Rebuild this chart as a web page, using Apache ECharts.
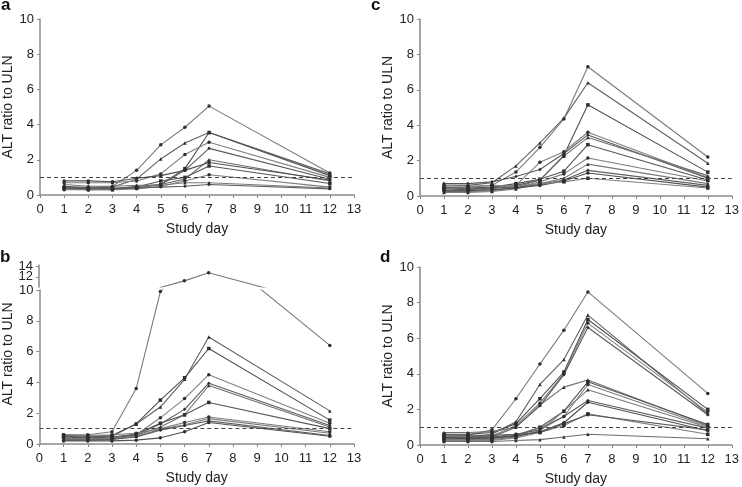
<!DOCTYPE html>
<html>
<head>
<meta charset="utf-8">
<script src="https://cdn.jsdelivr.net/npm/echarts@6/dist/echarts.min.js"></script>
<style>
  html, body { margin: 0; padding: 0; background: #fff; }
  #chart { width: 742px; height: 487px; }
</style>
</head>
<body>
<div id="chart"></div>
<script>
// study days sampled for every subject
const days = [1, 2, 3, 4, 5, 6, 7, 12];

// ALT ratio to ULN, one row per subject
const panelA = [
    [0.45, 0.45, 0.5, 1.4, 2.85, 3.85, 5.05, 1.25],
    [0.5, 0.4, 0.45, 0.9, 2.05, 2.95, 3.55, 1.2],
    [0.4, 0.35, 0.4, 0.4, 0.6, 1.5, 3.55, 1.1],
    [0.7, 0.7, 0.7, 0.8, 1.2, 2.3, 3.0, 1.0],
    [0.5, 0.3, 0.35, 0.5, 0.6, 1.4, 2.65, 0.9],
    [0.35, 0.3, 0.3, 0.4, 0.6, 0.9, 2.0, 0.8],
    [0.4, 0.35, 0.35, 0.45, 0.8, 1.0, 1.65, 0.65],
    [0.3, 0.3, 0.3, 0.35, 0.5, 0.8, 1.15, 0.45],
    [0.6, 0.5, 0.5, 0.55, 0.55, 0.7, 0.7, 0.4],
    [0.45, 0.4, 0.35, 0.4, 0.45, 0.5, 0.6, 0.35],
    [0.8, 0.8, 0.75, 0.95, 1.1, 1.4, 1.85, 0.85]
];

const panelB = [
    [0.6, 0.6, 0.8, 3.6, 9.9, 11.2, 12.8, 6.4],
    [0.5, 0.45, 0.5, 1.3, 2.4, 4.2, 6.95, 2.15],
    [0.55, 0.5, 0.55, 1.3, 2.85, 4.3, 6.2, 1.55],
    [0.4, 0.35, 0.4, 0.6, 1.7, 2.95, 4.5, 1.35],
    [0.35, 0.3, 0.35, 0.6, 1.3, 2.25, 3.95, 1.2],
    [0.3, 0.3, 0.3, 0.55, 1.1, 1.9, 3.8, 1.1],
    [0.45, 0.4, 0.45, 0.65, 1.35, 1.9, 2.7, 1.0],
    [0.6, 0.55, 0.6, 0.7, 1.0, 1.4, 1.75, 0.8],
    [0.35, 0.35, 0.35, 0.5, 0.95, 1.25, 1.65, 0.7],
    [0.25, 0.25, 0.3, 0.45, 0.9, 1.2, 1.5, 0.55],
    [0.2, 0.2, 0.2, 0.25, 0.4, 0.8, 1.4, 0.5]
];

const panelC = [
    [0.5, 0.5, 0.6, 1.35, 2.75, 4.35, 7.3, 2.2],
    [0.6, 0.6, 0.75, 1.7, 3.0, 4.4, 6.4, 1.85],
    [0.4, 0.35, 0.45, 0.6, 0.9, 2.3, 5.15, 1.35],
    [0.3, 0.3, 0.4, 0.6, 1.9, 2.5, 3.6, 1.05],
    [0.7, 0.7, 0.8, 1.1, 1.5, 2.4, 3.45, 1.0],
    [0.25, 0.25, 0.3, 0.5, 0.9, 2.25, 3.3, 1.15],
    [0.45, 0.45, 0.5, 0.7, 0.95, 1.4, 2.9, 0.9],
    [0.35, 0.3, 0.35, 0.45, 0.8, 1.25, 2.15, 0.85],
    [0.2, 0.2, 0.25, 0.4, 0.7, 1.0, 1.8, 0.7],
    [0.5, 0.4, 0.45, 0.5, 0.65, 0.9, 1.45, 0.6],
    [0.3, 0.3, 0.35, 0.45, 0.6, 0.85, 1.3, 0.5],
    [0.6, 0.55, 0.6, 0.55, 0.7, 0.8, 1.0, 0.45]
];

const panelD = [
    [0.5, 0.55, 0.85, 2.6, 4.55, 6.45, 8.6, 2.9],
    [0.4, 0.45, 0.6, 1.3, 3.4, 4.8, 7.3, 1.75],
    [0.6, 0.6, 0.7, 1.2, 2.6, 4.1, 7.05, 2.0],
    [0.35, 0.4, 0.5, 1.1, 2.35, 4.0, 6.85, 1.85],
    [0.3, 0.3, 0.45, 1.0, 2.2, 3.95, 6.6, 1.7],
    [0.7, 0.7, 0.75, 1.0, 2.25, 3.25, 3.65, 1.1],
    [0.45, 0.4, 0.4, 0.55, 1.0, 1.9, 3.55, 1.15],
    [0.35, 0.35, 0.35, 0.5, 0.95, 1.6, 3.4, 1.05],
    [0.3, 0.3, 0.3, 0.45, 0.8, 1.9, 3.1, 1.0],
    [0.5, 0.5, 0.45, 0.6, 0.85, 1.6, 2.5, 0.95],
    [0.4, 0.35, 0.4, 0.5, 0.75, 1.25, 2.4, 0.8],
    [0.25, 0.25, 0.25, 0.4, 0.7, 1.1, 1.75, 0.6],
    [0.6, 0.55, 0.55, 0.6, 0.7, 1.2, 1.7, 0.85],
    [0.2, 0.2, 0.2, 0.25, 0.3, 0.45, 0.6, 0.35]
];

// tick labels of the compressed part of panel b's axis
const brokenTicks = [12, 14];
const ulnLevel = 1;
const panelLetters = ['a', 'b', 'c', 'd'];

const chart = echarts.init(document.getElementById('chart'));

const FONT = '"Liberation Sans", Arial, sans-serif';
const axisGrey = '#8a8a8a';
const textColor = '#222';
const symbols = ['circle', 'triangle', 'rect', 'circle', 'diamond', 'triangle', 'rect', 'circle', 'triangle', 'diamond', 'circle', 'rect', 'circle', 'triangle'];
const lineGreys = ['#7a7a7a', '#606060', '#505050', '#808080', '#5a5a5a', '#6e6e6e', '#555', '#7d7d7d'];

// grids: a, b (lower), b (upper, broken part), c, d
const grids = [
    { left: 40, top: 19, width: 314, height: 176 },
    { left: 39, top: 290, width: 315, height: 154 },
    { left: 39, top: 265, width: 315, height: 22 },
    { left: 420, top: 19, width: 314, height: 177 },
    { left: 420, top: 267, width: 314, height: 178 }
];

const xAxisFor = (gridIndex, show) => ({
    gridIndex,
    type: 'value',
    show,
    min: 0,
    max: 13,
    interval: 1,
    name: 'Study day',
    nameLocation: 'middle',
    nameGap: 27,
    nameTextStyle: { fontFamily: FONT, fontSize: 14, color: textColor },
    axisLine: { show: true, lineStyle: { color: axisGrey, width: 1.5 } },
    axisTick: { show: true, length: 3, lineStyle: { color: axisGrey } },
    axisLabel: { fontFamily: FONT, fontSize: 13, color: textColor, margin: 8 },
    splitLine: { show: false }
});

const yAxisFor = (gridIndex, min, max, withName, namePad) => {
    const broken = gridIndex === 2;
    return {
        gridIndex,
        type: 'value',
        min,
        max,
        interval: 2,
        name: withName ? 'ALT ratio to ULN' : '',
        nameLocation: 'middle',
        nameGap: 21,
        nameTextStyle: { fontFamily: FONT, fontSize: 14, color: textColor, padding: namePad || 0 },
        axisLine: { show: true, lineStyle: { color: axisGrey, width: 1.5 } },
        axisTick: { show: true, length: 3, lineStyle: { color: axisGrey } },
        axisLabel: {
            fontFamily: FONT, fontSize: 13, color: textColor, margin: 6,
            showMinLabel: !broken,
            showMaxLabel: !broken,
            hideOverlap: false,
            formatter: v => broken ? (brokenTicks.includes(v) ? String(v) : '') : String(v)
        },
        splitLine: { show: false }
    };
};

const xAxes = [
    xAxisFor(0, true),
    xAxisFor(1, true),
    xAxisFor(2, false),
    xAxisFor(3, true),
    xAxisFor(4, true)
];
const yAxes = [
    yAxisFor(0, 0, 10, true),
    yAxisFor(1, 0, 10, true, [0, 0, 0, 26]),
    yAxisFor(2, 10, 14.3, false),
    yAxisFor(3, 0, 10, true),
    yAxisFor(4, 0, 10, true)
];

const series = [];
const addPanel = (rows, axisIndex, withRef) => {
    rows.forEach((row, i) => {
        const s = {
            type: 'line',
            xAxisIndex: axisIndex,
            yAxisIndex: axisIndex,
            data: days.map((d, k) => [d, row[k]]),
            symbol: symbols[i % symbols.length],
            symbolSize: 3.5,
            clip: true,
            lineStyle: { color: lineGreys[i % lineGreys.length], width: 1.1 },
            itemStyle: { color: '#2e2e2e' },
            emphasis: { disabled: true },
            silent: true,
            z: 3
        };
        if (withRef && i === 0) {
            s.markLine = {
                silent: true,
                symbol: 'none',
                label: { show: false },
                lineStyle: { type: [4, 3], color: '#444', width: 1 },
                data: [{ yAxis: ulnLevel }]
            };
        }
        series.push(s);
    });
};

addPanel(panelA, 0, true);
addPanel(panelB, 1, true);
addPanel(panelB.filter(r => Math.max(...r) > 10), 2, false);
addPanel(panelC, 3, true);
addPanel(panelD, 4, true);

const letterPos = [[1, -3], [0, 249], [371, -3], [380, 249]];

chart.setOption({
    animation: false,
    backgroundColor: '#fff',
    grid: grids,
    xAxis: xAxes,
    yAxis: yAxes,
    graphic: panelLetters.map((t, i) => ({
        type: 'text',
        left: letterPos[i][0],
        top: letterPos[i][1],
        style: { text: t, fontFamily: FONT, fontSize: 17, fontWeight: 'bold', fill: '#111' }
    })),
    series
});
</script>
</body>
</html>
